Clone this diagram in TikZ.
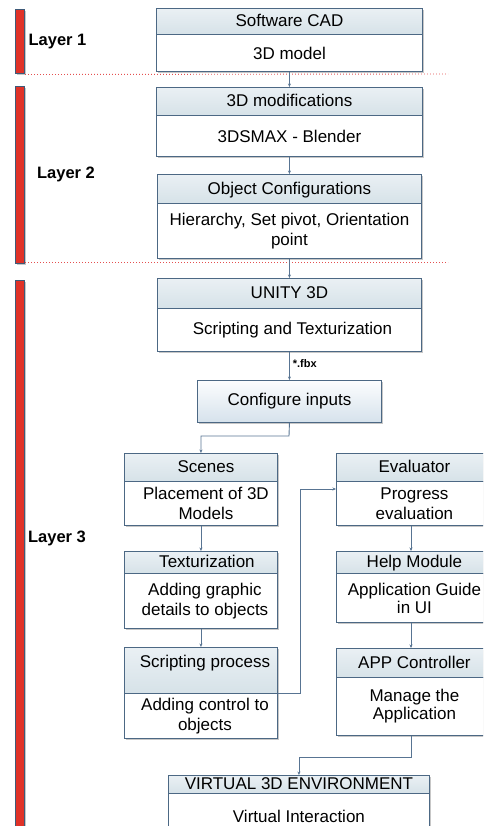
\documentclass[tikz,border=0pt]{standalone}
\usepackage{fontspec}
\setmainfont{Liberation Sans}
\usetikzlibrary{arrows.meta,shadows}
\definecolor{boxc}{RGB}{76,104,132}
\definecolor{arrc}{RGB}{88,116,146}
\definecolor{hdtop}{RGB}{234,240,244}
\definecolor{hdbot}{RGB}{214,226,232}
\definecolor{citop}{RGB}{252,253,254}
\definecolor{cibot}{RGB}{214,226,236}
\definecolor{barred}{RGB}{224,50,40}
\definecolor{barline}{RGB}{62,90,120}
\definecolor{dotred}{RGB}{228,80,80}
\begin{document}
\begin{tikzpicture}[x=1pt,y=-1pt,
  shd/.style={drop shadow={shadow xshift=1.5pt,shadow yshift=-1.5pt,fill=black,opacity=0.22}},
  txt/.style={font=\fontsize{17}{20}\selectfont},
  hdr/.style={draw=boxc,line width=0.9pt,top color=hdtop,bottom color=hdbot,anchor=north west,inner sep=0pt,txt,text height=13.5pt,text depth=2.5pt,shd},
  bdy/.style={draw=boxc,line width=0.9pt,fill=white,anchor=north west,inner sep=0pt,align=center,txt,shd},
  bar/.style={draw=barline,line width=1pt,fill=barred,minimum width=9pt,inner sep=0pt,shd},
  dotl/.style={draw=dotred,line width=0.9pt,dash pattern=on 0.9pt off 2.1pt},
  lay/.style={font=\fontsize{16.5}{20}\selectfont\bfseries},
  conn/.style={draw=arrc,line width=0.9pt},
  arr/.style={conn,-{Stealth[length=3.5pt,width=3pt]}}]
\useasboundingbox (0,0) rectangle (483,826);
\clip (0,0) rectangle (483,826);

% layer bars
\node[bar,minimum height=64pt] (bar1) at (20,42) {};
\node[bar,minimum height=176pt] (bar2) at (20,175) {};
\node[bar,minimum height=560pt] (bar3) at (20,560) {};
\coordinate (d1e) at (448,74);
\coordinate (d2e) at (448,262);
\draw[dotl] (bar1.south east) -- (d1e);
\draw[dotl] (bar2.south east |- d2e) -- (d2e);
\node[lay] (l1) at (57.5,42) {Layer 1};
\node[lay] (l2) at (66,174) {Layer 2};
\node[lay] (l3) at (57,538) {Layer 3};

% layer 1
\node[hdr,minimum width=266pt,minimum height=26pt] (h1) at (156,8) {Software CAD};
\node[bdy,minimum width=266pt,minimum height=37pt] (b1) at (156,34) {3D model};
% layer 2
\node[hdr,minimum width=266pt,minimum height=28pt] (h2) at (156,87) {3D modifications};
\node[bdy,minimum width=266pt,minimum height=41pt] (b2) at (156,115) {3DSMAX - Blender};
\node[hdr,minimum width=264pt,minimum height=29pt] (h3) at (157,174) {Object Configurations};
\node[bdy,minimum width=264pt,minimum height=55pt] (b3) at (157,203) {Hierarchy, Set pivot, Orientation\\point};
% layer 3
\node[hdr,minimum width=264pt,minimum height=30pt] (h4) at (157,278) {UNITY 3D};
\node[bdy,minimum width=264pt,minimum height=43pt] (b4) at (157,308) {\hspace*{6pt}Scripting and Texturization};
\node[draw=boxc,line width=0.9pt,top color=citop,bottom color=cibot,anchor=north west,inner sep=0pt,txt,minimum width=184pt,minimum height=42pt,shd] (ci) at (197,380) {Configure inputs};

\node[hdr,minimum width=153pt,minimum height=28pt] (hs) at (124,453) {\hspace*{10pt}Scenes};
\node[bdy,minimum width=153pt,minimum height=44pt] (bs) at (124,481) {\hspace*{10pt}Placement of 3D\\\hspace*{10pt}Models};
\node[hdr,minimum width=153pt,minimum height=22pt] (ht) at (124,551) {\hspace*{12pt}Texturization};
\node[bdy,minimum width=153pt,minimum height=55pt] (bt) at (124,573) {\hspace*{8pt}Adding graphic\\\hspace*{8pt}details to objects};
\node[hdr,minimum width=153pt,minimum height=46pt,text height=20pt,text depth=26pt] (hp) at (124,647) {\hspace*{8pt}Scripting process};
\node[bdy,minimum width=153pt,minimum height=45pt] (bp) at (124,693) {\hspace*{8pt}Adding control to\\\hspace*{8pt}objects};

\node[hdr,minimum width=156pt,minimum height=28pt] (he) at (336,453) {Evaluator};
\node[bdy,minimum width=156pt,minimum height=44pt] (be) at (336,481) {Progress\\evaluation};
\node[hdr,minimum width=156pt,minimum height=22pt] (hm) at (336,551) {Help Module};
\node[bdy,minimum width=156pt,minimum height=49pt,font=\fontsize{17}{18}\selectfont] (bm) at (336,573) {Application Guide\\in UI};
\node[hdr,minimum width=156pt,minimum height=29pt] (ha) at (336,648) {APP Controller};
\node[bdy,minimum width=156pt,minimum height=58pt,font=\fontsize{17}{18}\selectfont] (ba) at (336,677) {Manage the\\Application};

\node[hdr,minimum width=261pt,minimum height=18pt] (hv) at (168,775) {VIRTUAL 3D ENVIRONMENT};
\node[bdy,minimum width=261pt,minimum height=45pt] (bv) at (168,793) {Virtual Interaction};

% connectors
\draw[arr] (b1.south) -- (h2.north);
\draw[arr] (b2.south) -- (h3.north);
\draw[arr] (b3.south) -- (h4.north);
\draw[arr] (b4.south) -- node[right,pos=0.4,font=\fontsize{11}{12}\selectfont\bfseries,inner sep=3pt] (fbx) {*.fbx} (ci.north);
\coordinate (c1) at (289,436);
\draw[arr] (ci.south) -- (c1) -| (hs.north);
\draw[arr] (bs.south) -- (ht.north);
\draw[arr] (bt.south) -- (hp.north);
\coordinate (c2) at (300,489);
\draw[arr] (hp.south east) -| (c2) -- (be.west |- c2);
\draw[arr] (be.south -| 411,0) -- (hm.north -| 411,0);
\draw[arr] (bm.south -| 411,0) -- (ha.north -| 411,0);
\coordinate (c3) at (411,757);
\draw[arr] (ba.south -| c3) -- (c3) -| (hv.north);
\end{tikzpicture}
\end{document}
